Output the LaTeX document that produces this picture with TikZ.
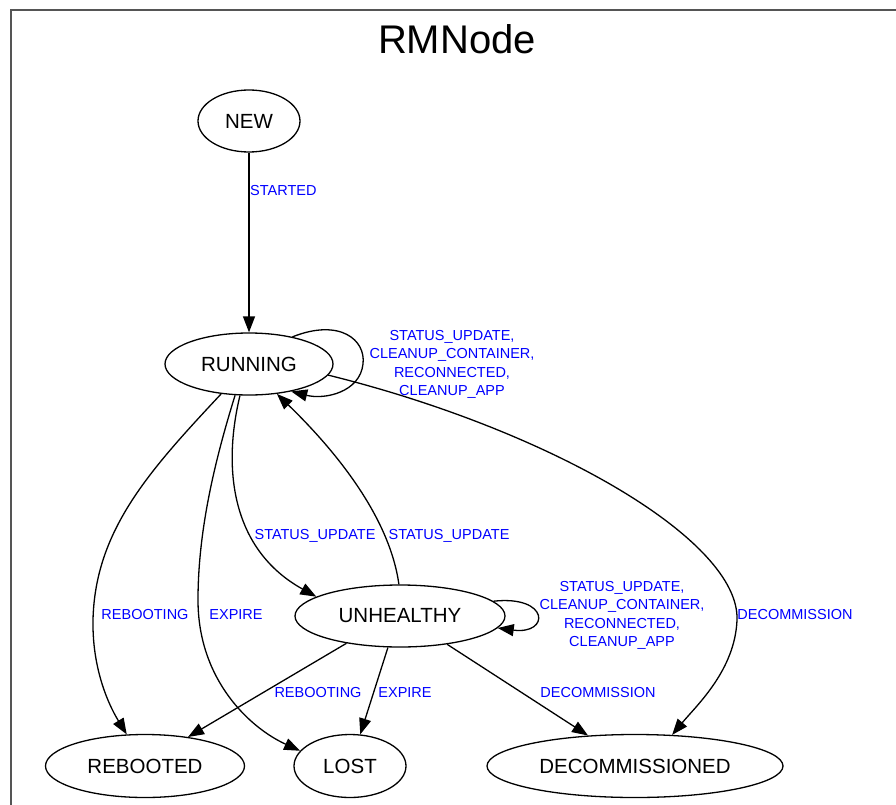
\documentclass[tikz,border=0pt]{standalone}
\usepackage{fontspec}
\setmainfont{Liberation Sans}
\usetikzlibrary{shapes.geometric,arrows.meta}
\definecolor{framegray}{HTML}{555555}
\definecolor{lblblue}{RGB}{0,0,255}
\begin{document}
\begin{tikzpicture}[x=1pt,y=-1pt,
  state/.style={ellipse,draw,line width=1.3pt,inner sep=0pt,minimum height=62pt,
                font=\fontsize{20.5}{24}\selectfont},
  trans/.style={line width=1.3pt,-{Triangle[length=16pt,width=12pt]}},
  evt/.style={text=lblblue,font=\fontsize{14.5}{18.3}\selectfont,align=center,inner sep=0pt},
]
\useasboundingbox (0,0) rectangle (896,805);

% frame and title
\draw[framegray,line width=2pt] (11,806) -- (11,10) -- (897,10);
\node[font=\fontsize{40}{48}\selectfont] (title) at (457,39) {RMNode};

% states
\node[state,minimum width=102pt] (NEW) at (249,121) {NEW};
\node[state,minimum width=168pt] (RUNNING) at (249,364) {RUNNING};
\node[state,minimum width=210pt] (UNHEALTHY) at (400,616) {UNHEALTHY};
\node[state,minimum width=199pt,minimum height=63pt] (REBOOTED) at (145,766) {REBOOTED};
\node[state,minimum width=112pt,minimum height=63pt] (LOST) at (350,766) {LOST};
\node[state,minimum width=296pt,minimum height=63pt] (DECOMMISSIONED) at (635,766) {DECOMMISSIONED};

% transitions
\draw[trans] (NEW.south) -- (RUNNING.north);
\draw[trans] (RUNNING.32) .. controls (340,318) and (366,340) .. (363,364)
                          .. controls (360,392) and (325,400) .. (RUNNING.327);
\draw[trans] (RUNNING.227) .. controls (150,470) and (95,530) .. (93,620)
                           .. controls (92,675) and (113,712) .. (REBOOTED.120);
\draw[trans] (RUNNING.246) .. controls (215,460) and (198,530) .. (198,600)
                           .. controls (198,680) and (250,728) .. (LOST.163);
\draw[trans] (RUNNING.254) .. controls (222,470) and (232,550) .. (UNHEALTHY.167);
\draw[trans] (UNHEALTHY.92) .. controls (390,520) and (340,455) .. (RUNNING.313);
\draw[trans] (RUNNING.352) .. controls (550,430) and (740,540) .. (737,620)
                           .. controls (735,670) and (697,705) .. (DECOMMISSIONED.40);
\draw[trans] (UNHEALTHY.9) .. controls (550,595) and (550,635) .. (UNHEALTHY.353);
\draw[trans] (UNHEALTHY.207) -- (REBOOTED.34);
\draw[trans] (UNHEALTHY.249) -- (LOST.72);
\draw[trans] (UNHEALTHY.329) -- (DECOMMISSIONED.147);

% transition labels
\node[evt,anchor=west] (lStarted) at (250,191) {STARTED};
\node[evt] (lRunLoop) at (452,364.5) {STATUS\_UPDATE,\\CLEANUP\_CONTAINER,\\RECONNECTED,\\CLEANUP\_APP};
\node[evt] (lUnLoop) at (622,615.5) {STATUS\_UPDATE,\\CLEANUP\_CONTAINER,\\RECONNECTED,\\CLEANUP\_APP};
\node[evt] (lRunUn) at (315,536) {STATUS\_UPDATE};
\node[evt] (lUnRun) at (449,536) {STATUS\_UPDATE};
\node[evt] (lRunReb) at (145,615) {REBOOTING};
\node[evt] (lRunLost) at (236,615) {EXPIRE};
\node[evt] (lUnReb) at (318,693) {REBOOTING};
\node[evt] (lUnLost) at (405,693) {EXPIRE};
\node[evt] (lUnDec) at (598,693) {DECOMMISSION};
\node[evt] (lRunDec) at (795,615) {DECOMMISSION};
\end{tikzpicture}
\end{document}
